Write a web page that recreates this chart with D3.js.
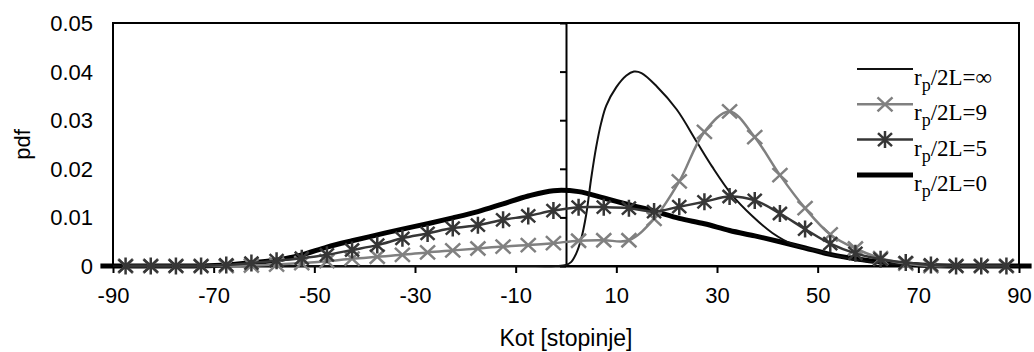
<!DOCTYPE html>
<html>
<head>
<meta charset="utf-8">
<script src="https://cdn.jsdelivr.net/npm/d3@7"></script>
<style>
  html, body { margin: 0; padding: 0; background: #fff; }
  svg { display: block; }
</style>
</head>
<body>
<svg id="chart" width="1034" height="352"></svg>
<script>
// Angles (degrees) at which the marked series are sampled
const anglesMarked = [-87.5, -82.5, -77.5, -72.5, -67.5, -62.5, -57.5, -52.5, -47.5, -42.5,
  -37.5, -32.5, -27.5, -22.5, -17.5, -12.5, -7.5, -2.5, 2.5, 7.5, 12.5, 17.5, 22.5, 27.5,
  32.5, 37.5, 42.5, 47.5, 52.5, 57.5, 62.5, 67.5, 72.5, 77.5, 82.5, 87.5];

// r_p/2L = 9
const pdfR9 = [0, 0, 0, 0, 0, 0.0001, 0.0003, 0.0006, 0.0010, 0.0015,
  0.0019, 0.0023, 0.0028, 0.0032, 0.0036, 0.0040, 0.0043, 0.0047, 0.0052, 0.0053, 0.0053, 0.0097, 0.0174, 0.0276,
  0.0318, 0.0265, 0.0187, 0.0119, 0.0065, 0.0036, 0.0016, 0.0005, 0, 0, 0, 0];

// r_p/2L = 5
const pdfR5 = [0, 0, 0, 0, 0.0002, 0.0006, 0.0011, 0.0016, 0.0023, 0.0033,
  0.0043, 0.0057, 0.0067, 0.0078, 0.0084, 0.0095, 0.0103, 0.0114, 0.0121, 0.0121, 0.0119, 0.0112, 0.0122, 0.0132,
  0.0143, 0.0135, 0.0108, 0.0076, 0.0046, 0.0026, 0.0014, 0.0007, 0.0002, 0, 0, 0];

// r_p/2L = 0 (sampled slightly past both ends of the angle range)
const anglesR0 = [-92.5, ...anglesMarked, 92.5];
const pdfR0 = [0, 0, 0, 0, 0, 0.0002, 0.0007, 0.0012, 0.0023, 0.0039, 0.0052,
  0.0064, 0.0076, 0.0087, 0.0099, 0.0112, 0.0128, 0.0144, 0.0155, 0.0153, 0.0140, 0.0126, 0.0113, 0.0098, 0.0087,
  0.0073, 0.0062, 0.0050, 0.0037, 0.0024, 0.0015, 0.0008, 0.0004, 0.0001, 0, 0, 0, 0];

// r_p/2L = infinity (denser sampling around the steep rise)
const anglesInf = [-90, -10, -2, 0, 1, 2, 3, 4, 5, 6, 7, 8, 10, 12, 13.5, 15, 18, 22, 26, 29, 33, 37, 41, 45,
  50, 55, 60, 65, 70, 75, 90];
const pdfInf = [0, 0, 0, 0.0002, 0.0008, 0.0025, 0.0055, 0.0105, 0.0180, 0.0245, 0.0295, 0.0330, 0.0368, 0.0392,
  0.0400, 0.0397, 0.0370, 0.0322, 0.0255, 0.0205, 0.0146, 0.0103, 0.0068, 0.0045,
  0.0031, 0.0018, 0.0009, 0.0004, 0.0001, 0, 0];

const xTicks = [-90, -70, -50, -30, -10, 10, 30, 50, 70, 90];
const yTicks = [0, 0.01, 0.02, 0.03, 0.04, 0.05];
const legendLabels = ["∞", "9", "5", "0"];

const svg = d3.select("#chart");
const L = 113, R = 1019, T = 23, B = 266;
const x = d3.scaleLinear().domain([-90, 90]).range([L, R]);
const y = d3.scaleLinear().domain([0, 0.05]).range([B, T]);

const sansFont = "'Liberation Sans', Arial, sans-serif";
const serifFont = "'Liberation Serif', 'Times New Roman', serif";

// Plot frame
svg.append("rect")
  .attr("x", L).attr("y", T).attr("width", R - L).attr("height", B - T)
  .attr("fill", "none").attr("stroke", "#000").attr("stroke-width", 2);

// Horizontal axis with ticks below
const xAxis = svg.append("g").attr("transform", `translate(0,${B})`)
  .call(d3.axisBottom(x).tickValues(xTicks).tickSize(7).tickPadding(14).tickSizeOuter(0).tickFormat(d3.format("d")));
xAxis.select(".domain").attr("stroke", "#000").attr("stroke-width", 2);
xAxis.selectAll(".tick line").attr("stroke", "#000").attr("stroke-width", 2);
xAxis.selectAll(".tick text").attr("font-family", sansFont).attr("font-size", 22).attr("fill", "#000")
  .text(d => d3.format("d")(d).replace("−", "-"));

// Vertical axis crossing at 0 degrees, labels kept at the left edge
const yAxis = svg.append("g").attr("transform", `translate(${x(0)},0)`)
  .call(d3.axisLeft(y).tickValues(yTicks).tickSize(6).tickSizeOuter(0).tickFormat(() => ""));
yAxis.select(".domain").attr("stroke", "#000").attr("stroke-width", 2);
yAxis.selectAll(".tick line").attr("stroke", "#000").attr("stroke-width", 2);

svg.append("g").selectAll("text").data(yTicks).join("text")
  .attr("x", 93).attr("y", d => y(d)).attr("dy", "0.36em")
  .attr("text-anchor", "end")
  .attr("font-family", sansFont).attr("font-size", 22).attr("fill", "#000")
  .text(d => d === 0 ? "0" : d3.format(".2f")(d));

// Axis titles
svg.append("text").attr("x", (L + R) / 2).attr("y", 346).attr("text-anchor", "middle")
  .attr("font-family", sansFont).attr("font-size", 23).attr("fill", "#000")
  .text("Kot [stopinje]");
svg.append("text").attr("transform", `translate(30,${(T + B) / 2}) rotate(-90)`)
  .attr("text-anchor", "middle")
  .attr("font-family", sansFont).attr("font-size", 22).attr("fill", "#000")
  .text("pdf");

// Series
const line = d3.line().curve(d3.curveCatmullRom.alpha(0.5));
const pts = (xs, ys) => xs.map((a, i) => [x(a), y(ys[i])]);

const xMark = "M-7.5,-7L7.5,7M-7.5,7L7.5,-7";
const starMark = "M-7,-6.5L7,6.5M-7,6.5L7,-6.5M0,-8.5L0,8.5";

const series = [
  { key: "0", xs: anglesR0, ys: pdfR0, color: "#000", width: 5, marker: null },
  { key: "inf", xs: anglesInf, ys: pdfInf, color: "#111", width: 2, marker: null },
  { key: "9", xs: anglesMarked, ys: pdfR9, color: "#808080", width: 2.5, marker: xMark },
  { key: "5", xs: anglesMarked, ys: pdfR5, color: "#363636", width: 2.5, marker: starMark }
];

series.forEach(s => {
  const p = pts(s.xs, s.ys);
  svg.append("path").attr("d", line(p))
    .attr("fill", "none").attr("stroke", s.color).attr("stroke-width", s.width)
    .attr("stroke-linejoin", "round");
  if (s.marker) {
    svg.append("g").selectAll("path").data(p).join("path")
      .attr("transform", d => `translate(${d[0]},${d[1]})`)
      .attr("d", s.marker).attr("fill", "none")
      .attr("stroke", s.color).attr("stroke-width", 2.5);
  }
});

// Legend
const legendItems = [
  { color: "#111", width: 2, marker: null },
  { color: "#808080", width: 2.5, marker: xMark },
  { color: "#363636", width: 2.5, marker: starMark },
  { color: "#000", width: 5, marker: null }
];
const lg = svg.append("g");
legendItems.forEach((it, i) => {
  const ly = 69 + i * 35.3;
  lg.append("line").attr("x1", 857).attr("x2", 913).attr("y1", ly).attr("y2", ly)
    .attr("stroke", it.color).attr("stroke-width", it.width);
  if (it.marker) {
    lg.append("path").attr("transform", `translate(885,${ly})`).attr("d", it.marker)
      .attr("fill", "none").attr("stroke", it.color).attr("stroke-width", 2.5);
  }
  const t = lg.append("text").attr("x", 914).attr("y", ly + 16)
    .attr("font-family", serifFont).attr("font-size", 23).attr("fill", "#000");
  t.append("tspan").text("r");
  t.append("tspan").attr("dy", 6).attr("font-size", 18).text("p");
  t.append("tspan").attr("dy", -6).text("/2L=" + legendLabels[i]);
});
</script>
</body>
</html>
